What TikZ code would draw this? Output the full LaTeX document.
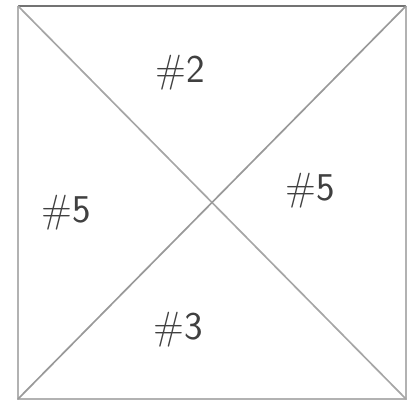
\documentclass[tikz,border=0pt]{standalone}
\usepackage{tikz}
\usetikzlibrary{calc}

\begin{document}
\begin{tikzpicture}[x=0.025cm,y=0.025cm]

\useasboundingbox (0,0) rectangle (418,403);

\coordinate (TL) at (18,397);
\coordinate (TR) at (406,397);
\coordinate (BR) at (406,4);
\coordinate (BL) at (18,4);

\draw[line width=1.5pt,gray!60] (TR)--(BR)--(BL)--(TL);
\draw[line width=1.5pt,gray!90!black] (TL)--(TR);
\draw[line width=1.2pt,gray!70] (TL)--(BR);
\draw[line width=1.2pt,gray!80] (BL)--(TR);

\node[font=\fontsize{28}{28}\selectfont\sffamily,text=black!75] (top) at (180,330) {\#2};
\node[font=\fontsize{28}{28}\selectfont\sffamily,text=black!75] (left) at (66,190) {\#5};
\node[font=\fontsize{28}{28}\selectfont\sffamily,text=black!75] (right) at (310,212) {\#5};
\node[font=\fontsize{28}{28}\selectfont\sffamily,text=black!75] (bottom) at (178,73) {\#3};

\end{tikzpicture}
\end{document}
